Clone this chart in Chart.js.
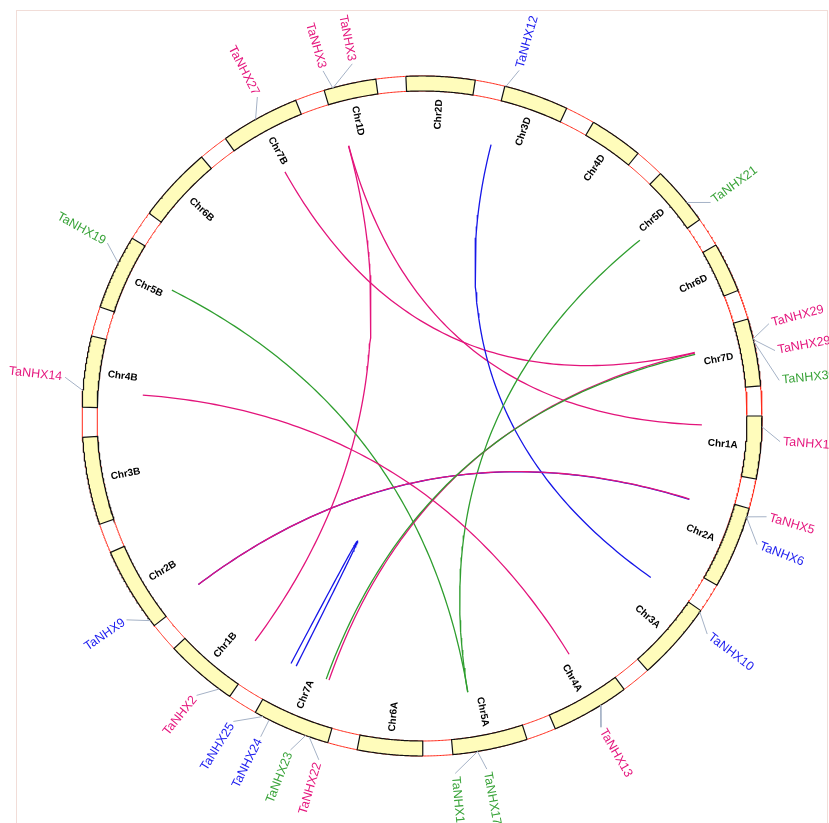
<!DOCTYPE html>
<html>
<head>
<meta charset="utf-8">
<title>TaNHX collinearity</title>
<script src="https://cdn.jsdelivr.net/npm/chart.js@4.4.1/dist/chart.umd.min.js"></script>
<style>
  html, body { margin: 0; padding: 0; background: #ffffff; overflow: hidden; }
  #wrap { position: relative; width: 829px; height: 823px; }
  #frame { position: absolute; left: 16px; top: 10px; width: 812px; height: 900px;
           border: 1px solid #f1ddd8; box-sizing: border-box; }
  #circos { position: absolute; left: 0; top: 0; }
</style>
</head>
<body>
<div id="wrap">
  <div id="frame"></div>
  <canvas id="circos" width="829" height="823"></canvas>
</div>
<script>
// ---- Wheat chromosomes (IWGSC RefSeq v1.0 lengths, Mb), drawn clockwise ----
const chromosomes = ['Chr1A','Chr2A','Chr3A','Chr4A','Chr5A','Chr6A','Chr7A',
                     'Chr1B','Chr2B','Chr3B','Chr4B','Chr5B','Chr6B','Chr7B',
                     'Chr1D','Chr2D','Chr3D','Chr4D','Chr5D','Chr6D','Chr7D'];
const chromLengthMb = [594.1, 780.8, 750.8, 744.6, 709.8, 618.1, 736.7,
                       689.9, 801.3, 830.8, 673.6, 713.1, 721.0, 750.6,
                       495.5, 651.9, 615.6, 509.9, 566.1, 473.6, 638.7];

// ---- TaNHX genes: name, chromosome, position (Mb), subfamily ----
const geneNames = ['TaNHX1','TaNHX5','TaNHX6','TaNHX10','TaNHX13','TaNHX17','TaNHX18',
                   'TaNHX22','TaNHX23','TaNHX24','TaNHX25','TaNHX2','TaNHX9','TaNHX14',
                   'TaNHX19','TaNHX27','TaNHX3','TaNHX3','TaNHX12','TaNHX21',
                   'TaNHX29','TaNHX29','TaNHX30'];
const geneChrom = ['Chr1A','Chr2A','Chr2A','Chr3A','Chr4A','Chr5A','Chr5A',
                   'Chr7A','Chr7A','Chr7A','Chr7A','Chr1B','Chr2B','Chr4B',
                   'Chr5B','Chr7B','Chr1D','Chr1D','Chr3D','Chr5D',
                   'Chr7D','Chr7D','Chr7D'];
const genePosMb = [100, 82, 86, 16, 266, 478, 476,
                   184, 218, 590, 656, 120, 59, 156,
                   445, 334, 84, 86, 10, 365,
                   193, 199, 216];
const geneGroup = ['pink','pink','blue','blue','pink','green','green',
                   'pink','green','blue','blue','pink','blue','pink',
                   'green','pink','pink','pink','blue','green',
                   'pink','pink','green'];

// ---- Segmental duplication pairs (indices into the gene arrays) ----
const linkA     = [16, 17, 15, 18, 19, 14, 13, 12, 12, 7, 8, 9];
const linkB     = [11,  0, 20,  3,  5,  6,  4,  2,  1, 21, 22, 10];
const linkGroup = ['pink','pink','pink','blue','green','green','pink','blue','pink','pink','green','blue'];

// ---- Layout ----
const W = 829, H = 823;
const CX = 422, CY = 416;                 // circle centre in canvas pixels
const R_OUT = 340, R_IN = 325;            // chromosome track
const R_LINK = 280;                       // link anchors
const R_CHR_LABEL = 302;
const R_LEADER_END = 359, R_GENE_LABEL = 362;
const START_DEG = 90, GAP_DEG = 5.086;
// angular placement of each gene name (degrees clockwise from 12 o'clock)
const labelDeg = [94.1, 106.3, 111.0, 127.4, 150.1, 169.6, 174.7,
                  196.7, 201.5, 206.7, 211.7, 218.9, 235.4, 276.2,
                  298.8, 332.7, 344.0, 348.8, 15.7, 53.5,
                  75.1, 79.5, 84.3];

const COLORS = { pink: '#e5177e', blue: '#1b1bef', green: '#39a339' };
const LINK_COLORS = { pink: '#e3147b', blue: '#1616e8', green: '#2f9e2f' };
const TRACK_FILL = '#fffcbb', TRACK_EDGE = '#111111', GAP_EDGE = '#ff2a1a';
const LEADER = '#a5b2c6';

const totalMb = chromLengthMb.reduce((a, b) => a + b, 0);
const degPerMb = (360 - GAP_DEG * chromosomes.length) / totalMb;
const chromStart = [];
{
  let acc = START_DEG;
  chromLengthMb.forEach(len => { chromStart.push(acc); acc += len * degPerMb + GAP_DEG; });
}
const chromEnd = chromStart.map((s, i) => s + chromLengthMb[i] * degPerMb);

function geneDeg(i) {
  const c = chromosomes.indexOf(geneChrom[i]);
  return chromStart[c] + genePosMb[i] * degPerMb;
}
function polar(r, deg) {
  const a = deg * Math.PI / 180;
  return { x: r * Math.sin(a), y: -r * Math.cos(a) };
}
function arcPoints(r, d0, d1) {
  const n = Math.max(2, Math.ceil(Math.abs(d1 - d0) / 0.25));
  const pts = [];
  for (let k = 0; k <= n; k++) pts.push(polar(r, d0 + (d1 - d0) * k / n));
  return pts;
}
// quadratic Bezier between two anchors, control point at the centre
function linkPoints(d0, d1) {
  const p0 = polar(R_LINK, d0), p2 = polar(R_LINK, d1);
  const pts = [], n = 90;
  for (let k = 0; k <= n; k++) {
    const t = k / n, a = (1 - t) * (1 - t), c = t * t;
    pts.push({ x: a * p0.x + c * p2.x, y: a * p0.y + c * p2.y });
  }
  return pts;
}

// ---- Build layers, bottom first ----
const layers = [];
layers.push({ data: arcPoints(R_OUT, 0, 360), borderColor: GAP_EDGE, borderWidth: 1 });
layers.push({ data: arcPoints(R_IN, 0, 360), borderColor: GAP_EDGE, borderWidth: 1 });

chromosomes.forEach((name, i) => {
  const pts = arcPoints(R_OUT, chromStart[i], chromEnd[i])
    .concat(arcPoints(R_IN, chromEnd[i], chromStart[i]));
  pts.push(pts[0]);
  layers.push({ data: pts, fill: 'shape', backgroundColor: TRACK_FILL,
                borderColor: TRACK_EDGE, borderWidth: 1.2 });
});

linkA.forEach((a, k) => {
  layers.push({ data: linkPoints(geneDeg(a), geneDeg(linkB[k])),
                borderColor: LINK_COLORS[linkGroup[k]], borderWidth: 1.3 });
});

geneNames.forEach((name, i) => {
  layers.push({ data: [polar(R_OUT, geneDeg(i)), polar(R_LEADER_END, labelDeg[i])],
                borderColor: LEADER, borderWidth: 1 });
});

const datasets = layers.map((ds, i) => Object.assign({
  showLine: true, pointRadius: 0, pointHoverRadius: 0, tension: 0,
  fill: false, clip: false, order: layers.length - i
}, ds));

// ---- Text: chromosome names inside the track, gene names outside ----
const labelPlugin = {
  id: 'circosLabels',
  afterDatasetsDraw(chart) {
    const { ctx } = chart;
    const sx = chart.scales.x, sy = chart.scales.y;
    const toPx = p => ({ x: sx.getPixelForValue(p.x), y: sy.getPixelForValue(p.y) });
    ctx.save();
    ctx.textBaseline = 'middle';

    ctx.font = 'bold 10px "Liberation Sans", Arial, sans-serif';
    ctx.fillStyle = '#000000';
    ctx.textAlign = 'center';
    chromosomes.forEach((name, i) => {
      const mid = ((chromStart[i] + chromEnd[i]) / 2) % 360;
      const p = toPx(polar(R_CHR_LABEL, mid));
      const rot = mid < 180 ? mid - 90 : mid - 270;
      ctx.save();
      ctx.translate(p.x, p.y);
      ctx.rotate(rot * Math.PI / 180);
      ctx.fillText(name, 0, 0);
      ctx.restore();
    });

    ctx.font = '12.5px "Liberation Sans", Arial, sans-serif';
    geneNames.forEach((name, i) => {
      const d = labelDeg[i] % 360;
      const p = toPx(polar(R_GENE_LABEL, d));
      const rightHalf = d < 180;
      ctx.save();
      ctx.translate(p.x, p.y);
      ctx.rotate((rightHalf ? d - 90 : d - 270) * Math.PI / 180);
      ctx.textAlign = rightHalf ? 'left' : 'right';
      ctx.fillStyle = COLORS[geneGroup[i]];
      ctx.fillText(name, 0, 0);
      ctx.restore();
    });
    ctx.restore();
  }
};

new Chart(document.getElementById('circos'), {
  type: 'scatter',
  data: { datasets },
  options: {
    responsive: false,
    animation: false,
    devicePixelRatio: 1,
    events: [],
    layout: { padding: 0 },
    plugins: { legend: { display: false }, tooltip: { enabled: false }, title: { display: false } },
    scales: {
      x: { type: 'linear', min: -CX, max: W - CX, display: false },
      y: { type: 'linear', min: -CY, max: H - CY, reverse: true, display: false }
    }
  },
  plugins: [labelPlugin]
});
</script>
</body>
</html>
